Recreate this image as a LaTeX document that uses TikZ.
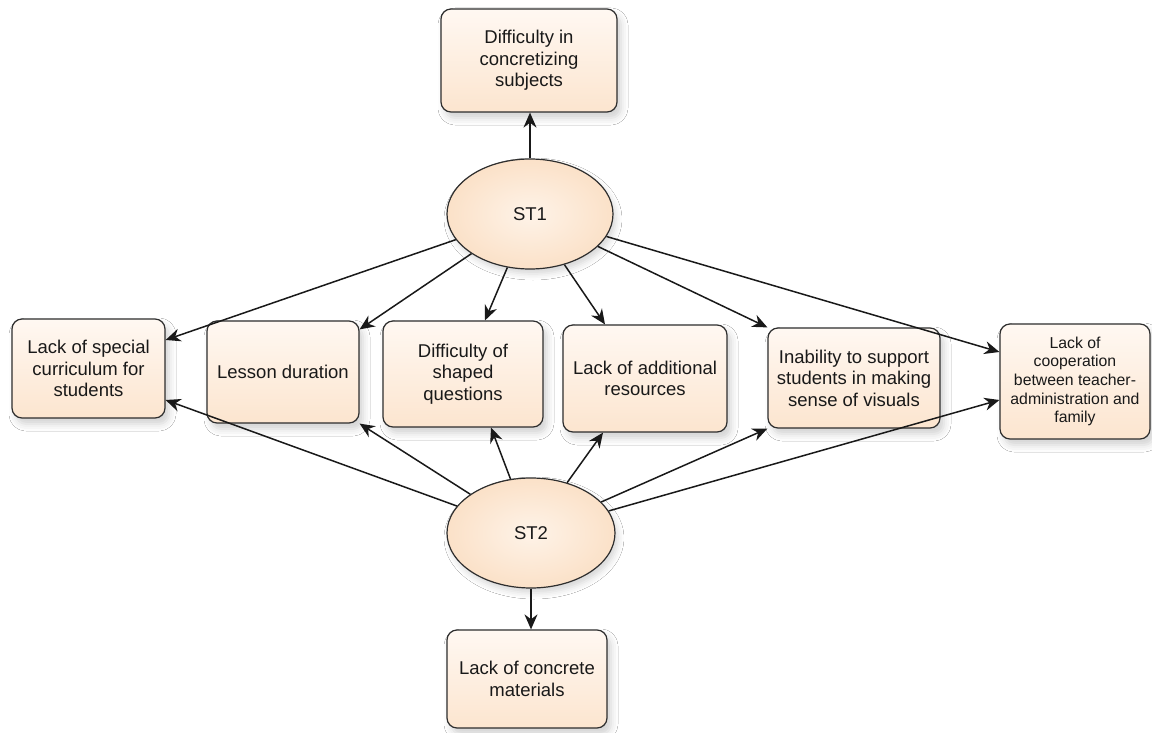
\documentclass[tikz,border=0pt]{standalone}
\usepackage{fontspec}
\setmainfont{Liberation Sans}
\usetikzlibrary{arrows.meta,shapes.geometric,calc,shadows.blur}
\definecolor{peachA}{HTML}{FCE5CF}
\definecolor{peachB}{HTML}{FFF8F2}
\definecolor{ellA}{HTML}{FBE1C8}
\definecolor{ellB}{HTML}{FEF3E8}
\definecolor{edgecol}{HTML}{2E2E2E}
\tikzset{
  box/.style={draw=edgecol, line width=1.2pt, rounded corners=10pt,
    top color=peachB, bottom color=peachA, align=center, inner sep=0pt,
    text=black!90, font=\fontsize{18.5}{21.5}\selectfont,
    blur shadow={shadow xshift=4pt, shadow yshift=-6pt, shadow opacity=18, shadow blur radius=7pt}},
  smallbox/.style={box, font=\fontsize{15.8}{18.7}\selectfont},
  ell/.style={ellipse, draw=edgecol, line width=1.2pt, inner sep=0pt,
    inner color=ellB, outer color=ellA, text=black!90,
    font=\fontsize{18.5}{21.5}\selectfont,
    blur shadow={shadow xshift=3pt, shadow yshift=-5pt, shadow opacity=16, shadow blur radius=6pt}},
  arr/.style={-{Stealth[length=15pt,width=13pt]}, line width=1.5pt, draw=black!90}
}
\begin{document}
\begin{tikzpicture}[x=1pt,y=-1pt]
\useasboundingbox (0,0) rectangle (1152,733);
\fill[white] (0,0) rectangle (1152,733);

\node[box, minimum width=176pt, minimum height=103pt] (top) at (529,60.5) {Difficulty in\\concretizing\\subjects};
\node[ell, minimum width=166pt, minimum height=110pt] (st1) at (530,214) {ST1};

\node[box, minimum width=153pt, minimum height=99pt] (curr) at (88.5,368.5) {Lack of special\\curriculum for\\students};
\node[box, minimum width=152pt, minimum height=102pt] (lesson) at (283,372) {Lesson duration};
\node[box, minimum width=160pt, minimum height=106pt] (shaped) at (463,374) {Difficulty of\\shaped\\questions};
\node[box, minimum width=164pt, minimum height=107pt] (res) at (645,378.5) {Lack of additional\\resources};
\node[box, minimum width=172pt, minimum height=100pt] (inab) at (854,378) {Inability to support\\students in making\\sense of visuals};
\node[smallbox, minimum width=150pt, minimum height=115pt] (coop) at (1075,381.5) {Lack of\\cooperation\\between teacher-\\administration and\\family};

\node[ell, minimum width=168pt, minimum height=110pt] (st2) at (531,533) {ST2};
\node[box, minimum width=160pt, minimum height=98pt] (bot) at (527,679) {Lack of concrete\\materials};

% ST1 connectors
\draw[arr] (st1) -- (top.south -| st1);
\draw[arr] (st1) -- ([yshift=28.5pt]curr.east);
\draw[arr] (st1) -- ([yshift=-9pt]lesson.north east);
\draw[arr] (st1) -- ([xshift=22pt]shaped.north);
\draw[arr] (st1) -- ([xshift=-40pt]res.north);
\draw[arr] (st1) -- (inab.north west);
\draw[arr] (st1) -- ([yshift=29.5pt]coop.west);

% ST2 connectors
\draw[arr] (st2) -- (bot.north -| st2);
\draw[arr] (st2) -- ([yshift=-31.5pt]curr.east);
\draw[arr] (st2) -- (lesson.south east);
\draw[arr] (st2) -- ([xshift=28pt]shaped.south);
\draw[arr] (st2) -- ([xshift=-42pt]res.south);
\draw[arr] (st2) -- (inab.south west);
\draw[arr] (st2) -- ([yshift=-18.5pt]coop.west);
\end{tikzpicture}
\end{document}
